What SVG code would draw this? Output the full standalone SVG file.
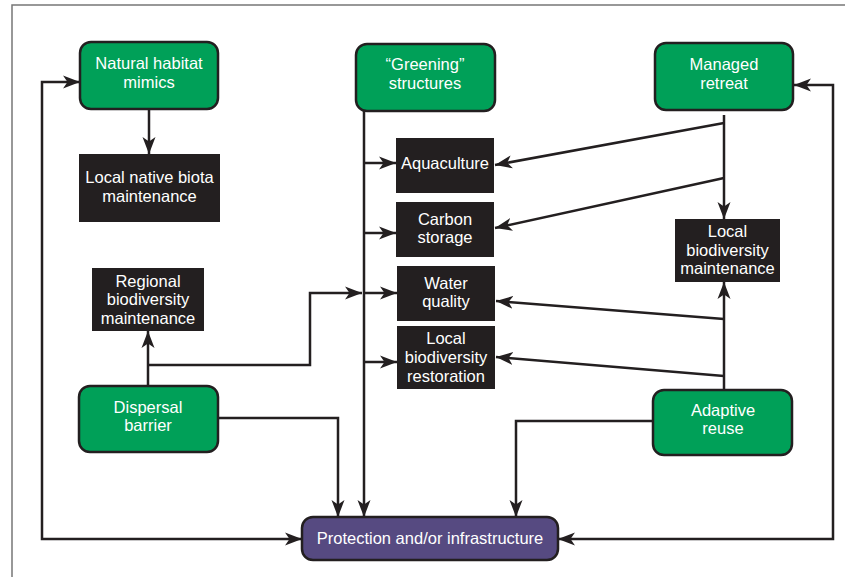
<svg xmlns="http://www.w3.org/2000/svg" width="845" height="577" viewBox="0 0 845 577">
<style>
.g{fill:#00a058;stroke:#231f20;stroke-width:2.5}
.p{fill:#564a81;stroke:#231f20;stroke-width:2.5}
.k{fill:#231f20}
text{font-family:"Liberation Sans",Arial,Helvetica,sans-serif;font-size:16.5px;fill:#ffffff;text-anchor:middle}
.c{fill:none;stroke:#231f20;stroke-width:2.5}
.f{fill:none;stroke:#777777;stroke-width:1.5}
</style>
<defs>
<marker id="a" markerUnits="userSpaceOnUse" markerWidth="18" markerHeight="14" viewBox="0 0 18 14" refX="17" refY="7" orient="auto-start-reverse">
<path d="M0,0.5 L17,7 L0,13.5 L4.5,7 Z" fill="#231f20"/>
</marker>
</defs>
<path class="f" d="M12,577 V5 H845"/>
<g id="connectors">
<path class="c" d="M149,109 V154" marker-end="url(#a)"/>
<path class="c" d="M364,111 V517" marker-end="url(#a)"/>
<path class="c" d="M364,163 H396" marker-end="url(#a)"/>
<path class="c" d="M364,233 H396" marker-end="url(#a)"/>
<path class="c" d="M364,293 H397" marker-end="url(#a)"/>
<path class="c" d="M364,362 H397" marker-end="url(#a)"/>
<path class="c" d="M148,386 V331" marker-end="url(#a)"/>
<path class="c" d="M148,365 H310 V293 H362" marker-end="url(#a)"/>
<path class="c" d="M218,418 H338 V517" marker-end="url(#a)"/>
<path class="c" d="M653,421 H516 V517" marker-end="url(#a)"/>
<path class="c" d="M80,82 H42 V539 H302" marker-start="url(#a)" marker-end="url(#a)"/>
<path class="c" d="M794,85 H833 V539 H558" marker-start="url(#a)" marker-end="url(#a)"/>
<path class="c" d="M724,115 V219" marker-end="url(#a)"/>
<path class="c" d="M724,123 L495,165" marker-end="url(#a)"/>
<path class="c" d="M724,178 L495,228" marker-end="url(#a)"/>
<path class="c" d="M724,390 V282" marker-end="url(#a)"/>
<path class="c" d="M724,319 L496,301" marker-end="url(#a)"/>
<path class="c" d="M724,376 L496,357" marker-end="url(#a)"/>
</g>
<g id="natural-habitat-mimics">
<rect class="g" x="80" y="42" width="138" height="67" rx="11"/>
<text x="149" y="69">Natural habitat</text>
<text x="149" y="88">mimics</text>
</g>
<g id="greening-structures">
<rect class="g" x="356" y="44" width="139" height="67" rx="11"/>
<text x="425" y="70">“Greening”</text>
<text x="425" y="89">structures</text>
</g>
<g id="managed-retreat">
<rect class="g" x="655" y="43" width="138" height="67" rx="11"/>
<text x="724" y="70">Managed</text>
<text x="724" y="89">retreat</text>
</g>
<g id="local-native-biota">
<rect class="k" x="79" y="154" width="141" height="68"/>
<text x="149.5" y="183">Local native biota</text>
<text x="149.5" y="202">maintenance</text>
</g>
<g id="regional-biodiversity">
<rect class="k" x="92" y="268" width="112" height="63"/>
<text x="148" y="287">Regional</text>
<text x="148" y="305">biodiversity</text>
<text x="148" y="324">maintenance</text>
</g>
<g id="aquaculture">
<rect class="k" x="396" y="138" width="98" height="55"/>
<text x="445" y="169">Aquaculture</text>
</g>
<g id="carbon-storage">
<rect class="k" x="396" y="202" width="98" height="55"/>
<text x="445" y="225">Carbon</text>
<text x="445" y="243">storage</text>
</g>
<g id="water-quality">
<rect class="k" x="397" y="266" width="98" height="55"/>
<text x="446" y="289">Water</text>
<text x="446" y="307">quality</text>
</g>
<g id="local-biodiversity-restoration">
<rect class="k" x="397" y="326" width="98" height="63"/>
<text x="446" y="344">Local</text>
<text x="446" y="363">biodiversity</text>
<text x="446" y="382">restoration</text>
</g>
<g id="local-biodiversity-maintenance">
<rect class="k" x="675" y="219" width="105" height="63"/>
<text x="727.5" y="237">Local</text>
<text x="727.5" y="256">biodiversity</text>
<text x="727.5" y="274">maintenance</text>
</g>
<g id="dispersal-barrier">
<rect class="g" x="79" y="386" width="139" height="66" rx="11"/>
<text x="148" y="413">Dispersal</text>
<text x="148" y="431">barrier</text>
</g>
<g id="adaptive-reuse">
<rect class="g" x="653" y="390" width="139" height="65" rx="11"/>
<text x="723" y="416">Adaptive</text>
<text x="723" y="434">reuse</text>
</g>
<g id="protection">
<rect class="p" x="302" y="517" width="256" height="43" rx="11"/>
<text x="430" y="544">Protection and/or infrastructure</text>
</g>
</svg>
